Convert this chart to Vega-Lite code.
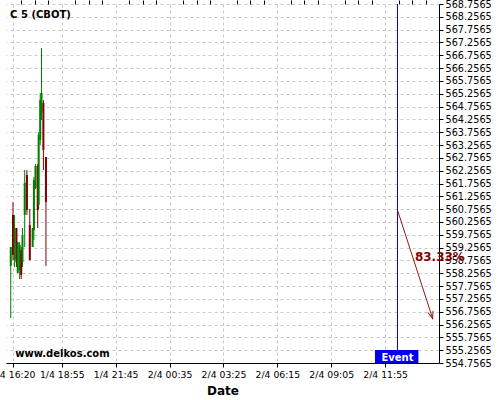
{
  "$schema": "https://vega.github.io/schema/vega-lite/v6.json",
  "width": 433,
  "height": 359,
  "autosize": {"type": "none"},
  "padding": {"left": 6, "top": 4, "right": 61, "bottom": 37},
  "background": "white",
  "view": {"stroke": null},
  "config": {"font": "DejaVu Sans"},
  "datasets": {
    "candles": [
      {"t": "2024-04-01T16:14:00Z", "open": 558.54, "high": 559.28, "low": 556.51, "close": 559.28},
      {"t": "2024-04-01T16:21:00Z", "open": 560.53, "high": 561.03, "low": 558.77, "close": 558.97},
      {"t": "2024-04-01T16:26:00Z", "open": 558.77, "high": 560.53, "low": 558.50, "close": 560.02},
      {"t": "2024-04-01T16:32:00Z", "open": 560.02, "high": 560.02, "low": 558.50, "close": 558.69},
      {"t": "2024-04-01T16:36:00Z", "open": 558.27, "high": 559.47, "low": 558.27, "close": 559.47},
      {"t": "2024-04-01T16:42:00Z", "open": 558.38, "high": 559.47, "low": 558.03, "close": 559.36},
      {"t": "2024-04-01T16:47:00Z", "open": 559.16, "high": 559.28, "low": 558.03, "close": 558.19},
      {"t": "2024-04-01T16:51:00Z", "open": 558.69, "high": 560.02, "low": 558.50, "close": 559.75},
      {"t": "2024-04-01T16:58:00Z", "open": 560.53, "high": 562.28, "low": 559.28, "close": 561.78},
      {"t": "2024-04-01T17:05:00Z", "open": 562.09, "high": 562.28, "low": 560.53, "close": 560.72},
      {"t": "2024-04-01T17:14:00Z", "open": 560.14, "high": 560.76, "low": 558.77, "close": 558.77},
      {"t": "2024-04-01T17:23:00Z", "open": 559.28, "high": 560.02, "low": 559.28, "close": 560.02},
      {"t": "2024-04-01T17:27:00Z", "open": 559.94, "high": 562.01, "low": 559.55, "close": 561.89},
      {"t": "2024-04-01T17:32:00Z", "open": 561.58, "high": 562.52, "low": 561.54, "close": 562.44},
      {"t": "2024-04-01T17:39:00Z", "open": 562.44, "high": 562.52, "low": 560.02, "close": 560.72},
      {"t": "2024-04-01T17:42:00Z", "open": 560.92, "high": 563.76, "low": 560.76, "close": 563.65},
      {"t": "2024-04-01T17:47:00Z", "open": 563.45, "high": 565.29, "low": 563.26, "close": 565.01},
      {"t": "2024-04-01T17:51:00Z", "open": 564.51, "high": 567.04, "low": 564.23, "close": 565.29},
      {"t": "2024-04-01T17:57:00Z", "open": 564.90, "high": 565.01, "low": 562.28, "close": 563.06},
      {"t": "2024-04-01T18:05:00Z", "open": 562.79, "high": 562.79, "low": 558.54, "close": 561.03}
    ],
    "event": [{"t": "2024-04-02T12:34:00Z", "label": "Event", "p": 554.97}],
    "eventbox": [{"t": "2024-04-02T11:23:00Z", "t2": "2024-04-02T13:40:00Z", "p": 554.7565, "p2": 555.263}],
    "arrow": [
      {"t": "2024-04-02T12:34:00Z", "p": 560.72},
      {"t": "2024-04-02T14:25:00Z", "p": 556.49}
    ],
    "arrowhead": [{"t": "2024-04-02T14:25:00Z", "p": 556.49}],
    "pct": [{"t": "2024-04-02T13:29:00Z", "p": 558.89, "label": "83.33%"}],
    "title": [{"t": "2024-04-01T16:12:00Z", "p": 568.33, "label": "C 5 (CBOT)"}],
    "watermark": [{"t": "2024-04-01T16:28:00Z", "p": 555.11, "label": "www.delkos.com"}]
  },
  "resolve": {"axis": {"x": "independent", "y": "independent"}},
  "layer": [
    {
      "data": {"name": "candles"},
      "mark": {"type": "rule", "strokeWidth": 1},
      "encoding": {
        "x": {
          "field": "t", "type": "temporal",
          "scale": {"type": "utc", "domain": [1711987140000, 1712069100000], "nice": false},
          "axis": {
            "values": [1711988400000, 1711997700000, 1712007900000, 1712018100000, 1712028300000, 1712038500000, 1712048700000, 1712058900000],
            "labelExpr": "utcFormat(datum.value, '%-d/%-m %H:%M')",
            "grid": true,
            "gridDash": [3, 3],
            "gridColor": "#c8c8c8",
            "tickSize": 4,
            "tickColor": "#000000",
            "domainColor": "#000000",
            "labelFont": "DejaVu Sans",
            "labelFontSize": 9.3,
            "labelColor": "#000000",
            "labelOverlap": false,
            "labelFlush": false,
            "labelPadding": 3,
            "title": "Date",
            "titleFont": "DejaVu Sans",
            "titleFontSize": 12,
            "titleFontWeight": "bold",
            "titleColor": "#000000",
            "titlePadding": 6
          }
        },
        "y": {
          "field": "low", "type": "quantitative",
          "scale": {"domain": [554.7565, 568.7565], "nice": false, "zero": false},
          "axis": {
            "orient": "right",
            "values": [554.7565, 555.2565, 555.7565, 556.2565, 556.7565, 557.2565, 557.7565, 558.2565, 558.7565, 559.2565, 559.7565, 560.2565, 560.7565, 561.2565, 561.7565, 562.2565, 562.7565, 563.2565, 563.7565, 564.2565, 564.7565, 565.2565, 565.7565, 566.2565, 566.7565, 567.2565, 567.7565, 568.2565, 568.7565],
            "format": ".4f",
            "grid": true,
            "gridDash": [3, 3],
            "gridColor": "#c8c8c8",
            "tickSize": 4,
            "tickColor": "#000000",
            "domainColor": "#000000",
            "labelFont": "DejaVu Sans",
            "labelFontSize": 9.7,
            "labelColor": "#000000",
            "labelOverlap": false,
            "labelFlush": false,
            "labelPadding": 2,
            "title": null
          }
        },
        "y2": {"field": "high"},
        "color": {"condition": {"test": "datum.close >= datum.open", "value": "#008000"}, "value": "#800000"}
      }
    },
    {
      "data": {"name": "candles"},
      "mark": {"type": "rule", "strokeWidth": 2},
      "encoding": {
        "x": {
          "field": "t", "type": "temporal",
          "axis": {
            "values": [1711990050000, 1711992600000, 1711995150000, 1712000250000, 1712002800000, 1712005350000, 1712010450000, 1712013000000, 1712015550000, 1712020650000, 1712023200000, 1712025750000, 1712030850000, 1712033400000, 1712035950000, 1712041050000, 1712043600000, 1712046150000, 1712051250000, 1712053800000, 1712056350000, 1712061450000, 1712064000000, 1712066550000],
            "labels": false,
            "grid": false,
            "domain": false,
            "tickSize": 4,
            "tickColor": "#000000",
            "title": null
          }
        },
        "y": {"field": "open", "type": "quantitative", "axis": null},
        "y2": {"field": "close"},
        "color": {"condition": {"test": "datum.close >= datum.open", "value": "#008000"}, "value": "#800000"}
      }
    },
    {
      "data": {"name": "event"},
      "mark": {"type": "rule", "color": "#0000CC", "strokeWidth": 1},
      "encoding": {
        "x": {"field": "t", "type": "temporal", "axis": null}
      }
    },
    {
      "data": {"name": "arrow"},
      "mark": {"type": "line", "color": "#8B1A1A", "strokeWidth": 1},
      "encoding": {
        "x": {"field": "t", "type": "temporal", "axis": null},
        "y": {"field": "p", "type": "quantitative", "axis": null}
      }
    },
    {
      "data": {"name": "arrowhead"},
      "mark": {"type": "point", "shape": "M-0.6,-1.6L0,0L0.6,-1.6", "filled": false, "stroke": "#8B1A1A", "strokeWidth": 1, "size": 81, "angle": 342, "opacity": 1},
      "encoding": {
        "x": {"field": "t", "type": "temporal", "axis": null},
        "y": {"field": "p", "type": "quantitative", "axis": null}
      }
    },
    {
      "data": {"name": "pct"},
      "mark": {"type": "text", "align": "left", "baseline": "middle", "font": "DejaVu Sans", "fontSize": 12, "fontWeight": "bold", "color": "#8B0000"},
      "encoding": {
        "x": {"field": "t", "type": "temporal", "axis": null},
        "y": {"field": "p", "type": "quantitative", "axis": null},
        "text": {"field": "label"}
      }
    },
    {
      "data": {"name": "eventbox"},
      "mark": {"type": "rect", "color": "#0000EE"},
      "encoding": {
        "x": {"field": "t", "type": "temporal", "axis": null},
        "x2": {"field": "t2"},
        "y": {"field": "p", "type": "quantitative", "axis": null},
        "y2": {"field": "p2"}
      }
    },
    {
      "data": {"name": "event"},
      "mark": {"type": "text", "align": "center", "baseline": "middle", "font": "DejaVu Sans", "fontSize": 10, "fontWeight": "bold", "color": "#FFFFFF"},
      "encoding": {
        "x": {"field": "t", "type": "temporal", "axis": null},
        "y": {"field": "p", "type": "quantitative", "axis": null},
        "text": {"field": "label"}
      }
    },
    {
      "data": {"name": "title"},
      "mark": {"type": "text", "align": "left", "baseline": "middle", "font": "DejaVu Sans", "fontSize": 10, "fontWeight": "bold", "color": "#000000"},
      "encoding": {
        "x": {"field": "t", "type": "temporal", "axis": null},
        "y": {"field": "p", "type": "quantitative", "axis": null},
        "text": {"field": "label"}
      }
    },
    {
      "data": {"name": "watermark"},
      "mark": {"type": "text", "align": "left", "baseline": "middle", "font": "DejaVu Sans", "fontSize": 10, "fontWeight": "bold", "color": "#000000"},
      "encoding": {
        "x": {"field": "t", "type": "temporal", "axis": null},
        "y": {"field": "p", "type": "quantitative", "axis": null},
        "text": {"field": "label"}
      }
    }
  ]
}
